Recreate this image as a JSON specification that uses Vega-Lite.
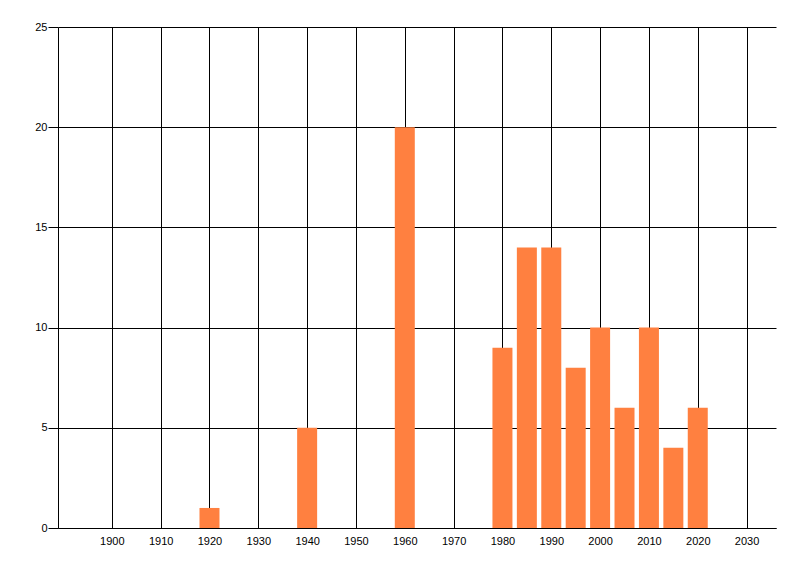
{
  "$schema": "https://vega.github.io/schema/vega-lite/v6.json",
  "width": 718,
  "height": 501,
  "autosize": "none",
  "padding": {"left": 58, "top": 27, "right": 24, "bottom": 48},
  "background": "white",
  "config": {
    "view": {"stroke": null},
    "axis": {
      "labelFont": "Liberation Sans",
      "labelFontSize": 11,
      "labelColor": "black",
      "domainColor": "black",
      "tickColor": "black",
      "gridColor": "black",
      "gridOpacity": 1,
      "gridWidth": 1,
      "domainWidth": 1,
      "tickWidth": 1
    }
  },
  "data": {
    "values": [
      {"year": 1920, "count": 1},
      {"year": 1940, "count": 5},
      {"year": 1960, "count": 20},
      {"year": 1980, "count": 9},
      {"year": 1985, "count": 14},
      {"year": 1990, "count": 14},
      {"year": 1995, "count": 8},
      {"year": 2000, "count": 10},
      {"year": 2005, "count": 6},
      {"year": 2010, "count": 10},
      {"year": 2015, "count": 4},
      {"year": 2020, "count": 6}
    ]
  },
  "mark": {"type": "bar", "size": 20, "color": "#ff8040"},
  "encoding": {
    "x": {
      "field": "year",
      "type": "quantitative",
      "scale": {"domain": [1890, 2035], "nice": false, "zero": false},
      "axis": {
        "title": null,
        "values": [1900, 1910, 1920, 1930, 1940, 1950, 1960, 1970, 1980, 1990, 2000, 2010, 2020, 2030],
        "format": "d",
        "ticks": false,
        "labelPadding": 7,
        "labelFlush": false,
        "grid": true
      }
    },
    "y": {
      "field": "count",
      "type": "quantitative",
      "scale": {"domain": [0, 25], "nice": false},
      "axis": {
        "title": null,
        "values": [0, 5, 10, 15, 20, 25],
        "tickSize": 10,
        "labelPadding": 1,
        "grid": true
      }
    }
  }
}
